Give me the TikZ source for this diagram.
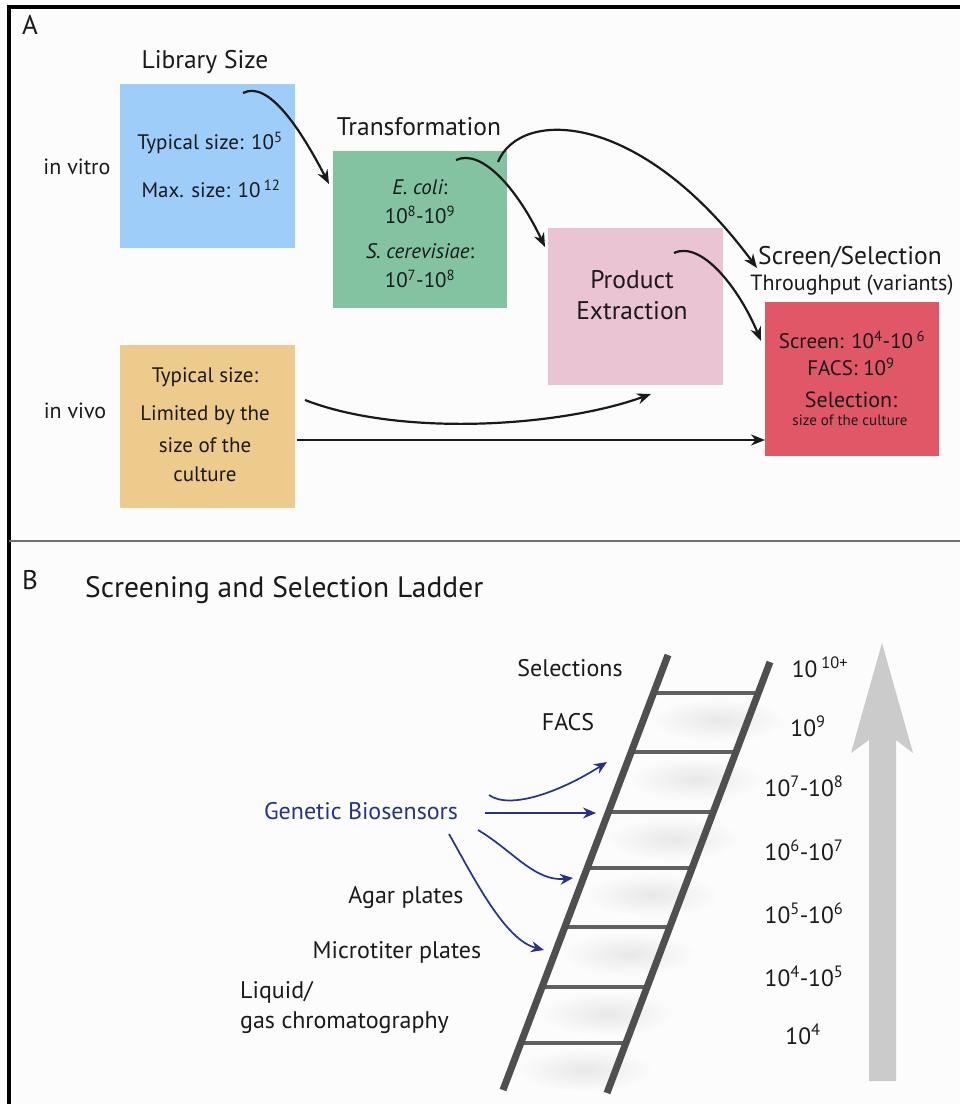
\documentclass[tikz,border=0pt]{standalone}
\usepackage{fontspec}
\setmainfont{PT Sans}
\usetikzlibrary{arrows.meta}
\definecolor{bgc}{HTML}{FCFCFC}
\definecolor{libblue}{HTML}{9DCDF8}
\definecolor{trgreen}{HTML}{83C3A1}
\definecolor{prpink}{HTML}{EBC4D4}
\definecolor{scred}{HTML}{E05868}
\definecolor{vivo}{HTML}{EDCB8C}
\definecolor{txt}{HTML}{1A1A1A}
\definecolor{bsblue}{HTML}{25338C}
\definecolor{railc}{HTML}{4F4F51}
\definecolor{rungc}{HTML}{606062}
\definecolor{bigarrowc}{HTML}{CBCBCB}
\definecolor{divc}{HTML}{707070}
\begin{document}
\begin{tikzpicture}[x=1pt,y=-1pt,
  box/.style={draw=none,inner sep=0pt,anchor=north west,minimum width=175pt},
  lbl/.style={text=txt,inner sep=0pt,font=\fontsize{21}{25}\selectfont},
  side/.style={text=txt,inner sep=0pt,font=\fontsize{22}{26}\selectfont},
  ttl/.style={text=txt,inner sep=0pt,font=\fontsize{25.5}{30}\selectfont},
  sml/.style={text=txt,inner sep=0pt,font=\fontsize{15}{18}\selectfont},
  blbl/.style={text=txt,inner sep=0pt,font=\fontsize{24}{29}\selectfont},
  num/.style={text=txt,inner sep=0pt,font=\fontsize{23.5}{28}\selectfont},
  arr/.style={line width=2.2pt,draw=txt,-{Stealth[length=14pt,width=11pt]}},
  barr/.style={line width=1.7pt,draw=bsblue,-{Stealth[length=13pt,width=11pt]}},
  lblue/.style={text=bsblue,inner sep=0pt,font=\fontsize{24}{29}\selectfont}]
\useasboundingbox (0,0) rectangle (960,1104);
\fill[bgc] (0,0) rectangle (960,1104);
% frame
\draw[line width=4pt,black] (9,1104) -- (9,7) -- (960,7);
\draw[line width=2pt,divc] (9,541) -- (960,541);

% ---------- Part A ----------
\node[inner sep=0pt,font=\fontsize{27}{32}\selectfont,text=txt] (labA) at (30,25) {A};
\node[side] (invitro) at (77,167) {in vitro};
\node[side] (invivo) at (75,411) {in vivo};

\node[box,fill=libblue,minimum height=164pt] (lib) at (120,84) {};
\node[ttl] (libt) at (205,62) {Library Size};
\node[lbl] (lib1) at (210,143) {Typical size: 10\textsuperscript{5}};
\node[lbl] (lib2) at (211,189) {Max. size: 10\,\textsuperscript{12}};

\node[box,fill=trgreen,minimum width=174pt,minimum height=157pt] (tra) at (333,151) {};
\node[ttl] (trat) at (419,127) {Transformation};
\node[lbl] (tr1) at (420,187) {\itshape E. coli\upshape :};
\node[lbl] (tr2) at (420,215) {10\textsuperscript{8}-10\textsuperscript{9}};
\node[lbl] (tr3) at (420,251) {\itshape S. cerevisiae\upshape :};
\node[lbl] (tr4) at (420,279) {10\textsuperscript{7}-10\textsuperscript{8}};

\node[box,fill=prpink,minimum width=175pt,minimum height=157pt] (pro) at (548,228) {};
\node[ttl] (pro1) at (632,280) {Product};
\node[ttl] (pro2) at (632,311) {Extraction};

\node[box,fill=scred,minimum width=174pt,minimum height=154pt] (scr) at (765,302) {};
\node[ttl] (scrt) at (850,257) {Screen/Selection};
\node[side] (scrt2) at (852,285) {Throughput (variants)};
\node[lbl] (scr1) at (852,340) {Screen: 10\textsuperscript{4}-10\,\textsuperscript{6}};
\node[lbl] (scr2) at (851,367) {FACS: 10\textsuperscript{9}};
\node[side] (scr3) at (851,400) {Selection:};
\node[sml] (scr4) at (850,420) {size of the culture};

\node[box,fill=vivo,minimum height=163pt] (viv) at (120,345) {};
\node[lbl] (viv1) at (205,377) {Typical size:};
\node[lbl] (viv2) at (205,415) {Limited by the};
\node[lbl] (viv3) at (205,445) {size of the};
\node[lbl] (viv4) at (205,474) {culture};

% connectors
\coordinate (s1) at (243,93);
\coordinate (e1) at (329,184);
\coordinate (s2) at (456,160);
\coordinate (e2) at (545,247);
\coordinate (s3) at (498,162);
\coordinate (e3) at (757,268);
\coordinate (s4) at (674,253);
\coordinate (e4) at (761,341);
\coordinate (s5) at (305,400);
\coordinate (e5) at (651,394);
\coordinate (s6) at (297,440);
\draw[arr] (s1) .. controls (268,80) and (300,128) .. (e1);
\draw[arr] (s2) .. controls (482,148) and (518,190) .. (e2);
\draw[arr] (s3) .. controls (520,108) and (640,110) .. (e3);
\draw[arr] (s4) .. controls (702,240) and (740,290) .. (e4);
\draw[arr] (s5) .. controls (400,437) and (560,427) .. (e5);
\draw[arr] (s6) -- (s6 -| scr.west);

% ---------- Part B ----------
\node[inner sep=0pt,font=\fontsize{27}{32}\selectfont,text=txt] (labB) at (30,580) {B};
\node[inner sep=0pt,anchor=west,font=\fontsize{29.5}{34}\selectfont,text=txt] (ladt) at (85,590) {Screening and Selection Ladder};

% rung shadows
\foreach \cx/\cy in {718/720, 696/779, 673/839, 652/895, 629/954, 607/1014, 585/1070}
  \shade[inner color=black!9, outer color=bgc] (\cx,\cy) ellipse [x radius=68, y radius=22];

% rungs
\foreach \yy/\lx/\rx in {693/653.6/758.3, 752/631.2/736.0, 812/608.5/713.3, 868/587.2/692.1, 927/564.8/669.8, 987/542.1/647.1, 1043/520.8/625.9}
  \draw[rungc,line width=4pt] (\lx,\yy) -- (\rx,\yy);
% rails
\draw[railc,line width=7pt] (668,655) -- (503,1090);
\draw[railc,line width=7pt] (770,662) -- (607,1093);

% ladder labels
\node[blbl] (sel) at (570,668) {Selections};
\node[blbl] (facs) at (568,722) {FACS};
\node[lblue] (gb) at (361,811) {Genetic Biosensors};
\node[blbl] (agar) at (406,897) {Agar plates};
\node[blbl] (micro) at (397,952) {Microtiter plates};
\node[blbl,anchor=west,align=left,font=\fontsize{24}{30}\selectfont] (liq) at (240,1007) {Liquid/\\gas chromatography};

% throughput numbers
\node[num] (n1) at (820,667) {10\,\textsuperscript{10+}};
\node[num] (n2) at (808,726) {10\textsuperscript{9}};
\node[num] (n3) at (804,786) {10\textsuperscript{7}-10\textsuperscript{8}};
\node[num] (n4) at (804,850) {10\textsuperscript{6}-10\textsuperscript{7}};
\node[num] (n5) at (804,913) {10\textsuperscript{5}-10\textsuperscript{6}};
\node[num] (n6) at (804,976) {10\textsuperscript{4}-10\textsuperscript{5}};
\node[num] (n7) at (803,1034) {10\textsuperscript{4}};

% big gray arrow
\fill[bigarrowc] (869,1081) -- (869,740) -- (851,753) -- (882,643) -- (913,753) -- (896,740) -- (896,1081) -- cycle;

% blue arrows
\coordinate (b1s) at (489,795);
\coordinate (b1e) at (607,762);
\coordinate (b2s) at (485,813);
\coordinate (b2e) at (596,813);
\coordinate (b3s) at (478,830);
\coordinate (b3e) at (573,878);
\coordinate (b4s) at (449,834);
\coordinate (b4e) at (544,950);
\draw[barr] (b1s) .. controls (510,810) and (560,792) .. (b1e);
\draw[barr] (b2s) -- (b2e);
\draw[barr] (b3s) .. controls (512,850) and (535,882) .. (b3e);
\draw[barr] (b4s) .. controls (475,880) and (505,940) .. (b4e);
\end{tikzpicture}
\end{document}
